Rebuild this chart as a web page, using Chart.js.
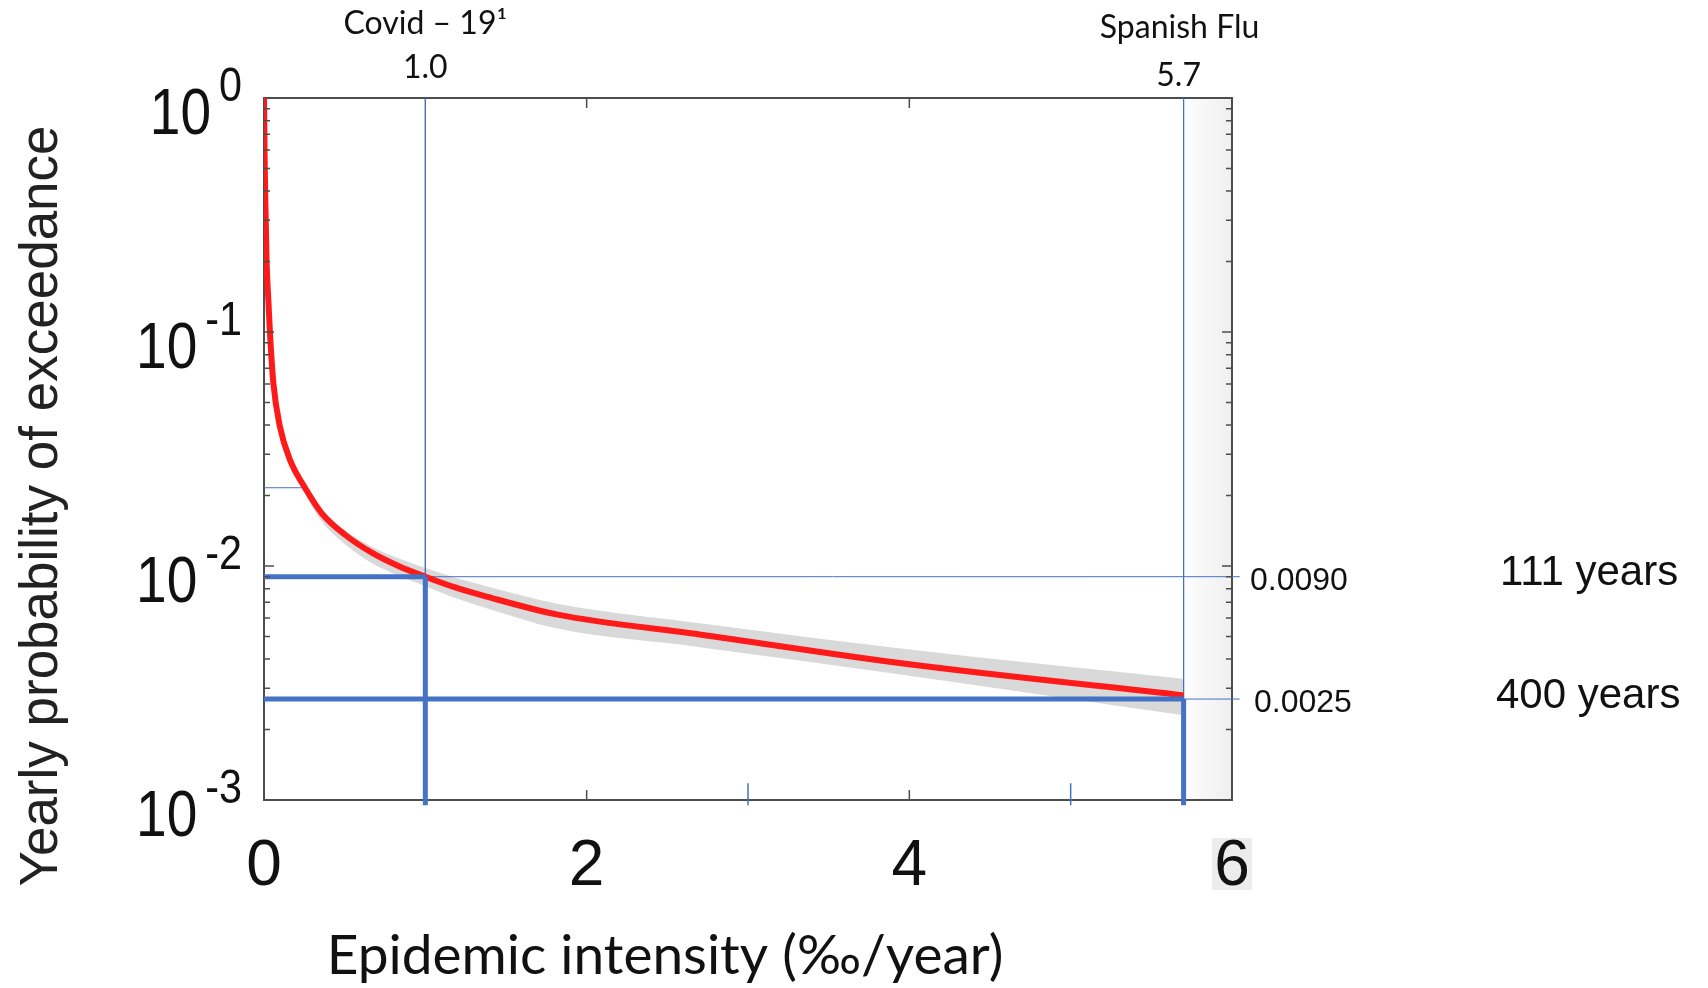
<!DOCTYPE html>
<html>
<head>
<meta charset="utf-8">
<script src="https://cdn.jsdelivr.net/npm/chart.js@4.4.1/dist/chart.umd.min.js"></script>
<style>
  html, body { margin: 0; padding: 0; background: #fff; }
  canvas { display: block; }
</style>
</head>
<body>
<canvas id="exceedanceChart" width="1708" height="988"></canvas>
<script>
// Epidemic intensity (‰/year) vs yearly probability of exceedance
const intensity   = [0, 0.004, 0.008, 0.016, 0.027, 0.037, 0.058, 0.099, 0.161, 0.254, 0.358, 0.502, 0.668, 0.833, 1.0, 1.185, 1.38, 1.82, 2.7, 4.0, 5.7];
const probability = [1.0, 0.55, 0.37, 0.2, 0.137, 0.099, 0.0605, 0.0393, 0.0284, 0.0216, 0.0168, 0.0136, 0.0114, 0.0100, 0.0090, 0.0081, 0.0074, 0.0062, 0.0051, 0.0038, 0.0028];
const bandUpper   = [1.0, 0.55, 0.37, 0.2, 0.138, 0.1, 0.0615, 0.0402, 0.0292, 0.0223, 0.0175, 0.0142, 0.0121, 0.0108, 0.0098, 0.0089, 0.0082, 0.0069, 0.0057, 0.0044, 0.0033];
const bandLower   = [1.0, 0.55, 0.37, 0.2, 0.136, 0.097, 0.059, 0.038, 0.0272, 0.0203, 0.0155, 0.0124, 0.0103, 0.0091, 0.0082, 0.0073, 0.0066, 0.0054, 0.0045, 0.0034, 0.0023];

// axis ticks
const xTicks = [0, 2, 4, 6];
const yTicks = [1, 0.1, 0.01, 0.001];
const yTickExp = ['0', '-1', '-2', '-3'];
const xBlueTicks = [3, 5];

// marked events
const eventNames = ['Covid \u2013 19\u00b9', 'Spanish Flu'];
const eventIntensity = [1.0, 5.7];
const eventIntensityLabels = ['1.0', '5.7'];
const eventProbability = [0.009, 0.0027];
const eventProbabilityLabels = ['0.0090', '0.0025'];
const returnPeriods = ['111 years', '400 years'];
// short guide line near the top of the curve
const guideProbability = 0.0216;
const guideIntensity = 0.254;

const BLUE = '#4472c4';
const yMin = 0.001, yMax = 1, xMin = 0, xMax = 6;

function toPoints(xs, ys) {
    return xs.map((x, i) => ({ x: x, y: ys[i] }));
}

function blueLine(points, width, order) {
    return {
        data: points,
        borderColor: BLUE,
        borderWidth: width,
        pointRadius: 0,
        fill: false,
        clip: false,
        order: order
    };
}

const datasets = [
    {   // uncertainty band
        data: toPoints(intensity, bandUpper),
        borderWidth: 0,
        borderColor: 'rgba(0,0,0,0)',
        backgroundColor: '#d9d9d9',
        pointRadius: 0,
        fill: '+1',
        cubicInterpolationMode: 'monotone',
        order: 10
    },
    {
        data: toPoints(intensity, bandLower),
        borderWidth: 0,
        borderColor: 'rgba(0,0,0,0)',
        pointRadius: 0,
        fill: false,
        cubicInterpolationMode: 'monotone',
        order: 11
    },
    {   // exceedance curve
        data: toPoints(intensity, probability),
        borderColor: '#ff1a1a',
        borderWidth: 6,
        pointRadius: 0,
        fill: false,
        cubicInterpolationMode: 'monotone',
        order: 3
    },
    blueLine([{ x: xMin, y: guideProbability }, { x: guideIntensity, y: guideProbability }], 1, 6)
];

// guide lines for the two events
eventIntensity.forEach((ex, i) => {
    const p = eventProbability[i];
    datasets.push(blueLine([{ x: ex, y: yMax }, { x: ex, y: p }], 1, 6));
    datasets.push(blueLine([{ x: ex, y: p }, { x: xMax * 1.008, y: p }], 1, 6));
    datasets.push(blueLine([{ x: xMin, y: p }, { x: ex, y: p }], 5, 1));
    datasets.push(blueLine([{ x: ex, y: p }, { x: ex, y: yMin * 0.95 }], 5, 1));
});

xBlueTicks.forEach(v => {
    datasets.push(blueLine([{ x: v, y: yMin * 1.18 }, { x: v, y: yMin * 0.95 }], 1.5, 6));
});

const frameBorder = { display: true, color: '#4d4d4d', width: 2 };

const decorPlugin = {
    id: 'decor',
    beforeDraw(chart) {
        const ctx = chart.ctx;
        const x = chart.scales.x;
        const area = chart.chartArea;
        ctx.save();
        // light shading right of the Spanish Flu line
        const x0 = x.getPixelForValue(eventIntensity[1]);
        const x1 = x.getPixelForValue(xMax);
        const g = ctx.createLinearGradient(x0, 0, x1, 0);
        g.addColorStop(0, '#fefefe');
        g.addColorStop(1, '#efefef');
        ctx.fillStyle = g;
        ctx.fillRect(x0, area.top, x1 - x0, area.bottom - area.top);
        // grey patch behind the last tick label
        ctx.fillStyle = '#ececec';
        ctx.fillRect(x1 - 20, area.bottom + 38, 40, 52);
        ctx.restore();
    },
    afterDraw(chart) {
        const ctx = chart.ctx;
        const x = chart.scales.x;
        const y = chart.scales.y;
        const area = chart.chartArea;
        ctx.save();

        // inward tick marks: log minor ticks on left/right, linear ticks on top/bottom
        ctx.strokeStyle = '#4d4d4d';
        ctx.lineWidth = 1.5;
        ctx.beginPath();
        for (let k = -3; k < 0; k++) {
            for (let m = 1; m <= 9; m++) {
                const v = m * Math.pow(10, k);
                const py = y.getPixelForValue(v);
                const len = m === 1 ? 10 : 6;
                ctx.moveTo(area.left, py); ctx.lineTo(area.left + len, py);
                ctx.moveTo(area.right, py); ctx.lineTo(area.right - len, py);
            }
        }
        [2, 4].forEach(v => {
            const px = x.getPixelForValue(v);
            ctx.moveTo(px, area.bottom); ctx.lineTo(px, area.bottom - 10);
            ctx.moveTo(px, area.top); ctx.lineTo(px, area.top + 10);
        });
        ctx.stroke();

        // y tick labels 10^n (slightly condensed, like the original)
        ctx.fillStyle = '#111';
        ctx.textBaseline = 'alphabetic';
        ctx.textAlign = 'left';
        const squeeze = 0.86;
        const baseFont = '64px "Liberation Sans", Arial, sans-serif';
        const supFont = '48px "Liberation Sans", Arial, sans-serif';
        yTicks.forEach((v, i) => {
            const py = y.getPixelForValue(v);
            ctx.font = supFont;
            const wSup = ctx.measureText(yTickExp[i]).width * squeeze;
            ctx.font = baseFont;
            const wBase = ctx.measureText('10').width * squeeze;
            const right = area.left - 22;
            const start = right - wSup - 8 - wBase;
            ctx.save();
            ctx.translate(start, py + 36);
            ctx.scale(squeeze, 1);
            ctx.fillText('10', 0, 0);
            ctx.restore();
            ctx.save();
            ctx.translate(right - wSup, py + 3);
            ctx.scale(squeeze, 1);
            ctx.font = supFont;
            ctx.fillText(yTickExp[i], 0, 0);
            ctx.restore();
        });

        // y axis title
        ctx.save();
        ctx.translate(42, 506);
        ctx.rotate(-Math.PI / 2);
        ctx.textAlign = 'center';
        ctx.textBaseline = 'middle';
        ctx.font = '53px "Liberation Sans", Arial, sans-serif';
        ctx.fillStyle = '#222';
        ctx.fillText('Yearly probability of exceedance', 0, 0);
        ctx.restore();

        // x axis title
        ctx.textAlign = 'center';
        ctx.textBaseline = 'middle';
        ctx.font = '55px Lato, "Open Sans", sans-serif';
        ctx.fillStyle = '#111';
        ctx.fillText('Epidemic intensity (\u2030/year)', 665, 956);

        // event labels above the plot
        ctx.font = '32px Lato, "Open Sans", sans-serif';
        eventIntensity.forEach((ex, i) => {
            const px = x.getPixelForValue(ex);
            ctx.fillText(eventNames[i], px - (i === 1 ? 4 : 0), i === 1 ? 28 : 24);
            ctx.fillText(eventIntensityLabels[i], px - (i === 1 ? 5 : 0), i === 1 ? 76 : 68);
        });

        // probabilities and return periods on the right
        ctx.textAlign = 'left';
        eventProbability.forEach((p, i) => {
            const py = y.getPixelForValue(p);
            ctx.font = '32px "Liberation Sans", Arial, sans-serif';
            ctx.fillText(eventProbabilityLabels[i], area.right + 18 + i * 4, py + 4);
            ctx.font = '42px "Liberation Sans", Arial, sans-serif';
            ctx.fillText(returnPeriods[i], area.right + 268 - i * 4, py - 3);
        });

        ctx.restore();
    }
};

const exceedanceChart = new Chart(document.getElementById('exceedanceChart'), {
    type: 'line',
    data: { datasets: datasets },
    options: {
        responsive: false,
        animation: false,
        events: [],
        plugins: {
            legend: { display: false },
            tooltip: { enabled: false }
        },
        layout: { padding: 0 },
        scales: {
            x: {
                type: 'linear', position: 'bottom', min: xMin, max: xMax,
                afterBuildTicks: s => { s.ticks = xTicks.map(v => ({ value: v })); },
                ticks: {
                    font: { family: '"Liberation Sans", Arial, sans-serif', size: 64 },
                    color: '#111', padding: 29, maxRotation: 0, autoSkip: false
                },
                grid: { display: false, drawTicks: false },
                border: frameBorder,
                afterFit: s => { s.height = 188; }
            },
            xTop: {
                type: 'linear', position: 'top', min: xMin, max: xMax,
                ticks: { display: false },
                grid: { display: false, drawTicks: false },
                border: frameBorder,
                afterFit: s => { s.height = 98; }
            },
            y: {
                type: 'logarithmic', position: 'left', min: yMin, max: yMax,
                ticks: { display: false },
                grid: { display: false, drawTicks: false },
                border: frameBorder,
                afterFit: s => { s.width = 264; }
            },
            yRight: {
                type: 'logarithmic', position: 'right', min: yMin, max: yMax,
                ticks: { display: false },
                grid: { display: false, drawTicks: false },
                border: frameBorder,
                afterFit: s => { s.width = 476; }
            }
        }
    },
    plugins: [decorPlugin]
});
</script>
</body>
</html>
